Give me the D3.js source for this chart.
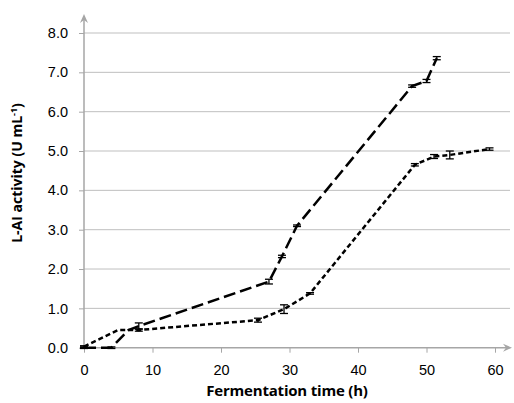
<!DOCTYPE html>
<html lang="en">
<head>
<meta charset="UTF-8">
<title>L-AI activity</title>
<script src="https://cdnjs.cloudflare.com/ajax/libs/d3/7.8.5/d3.min.js"></script>
<style>
  body { margin: 0; background: #fff; }
  svg { display: block; font-family: "DejaVu Sans", sans-serif; }
</style>
</head>
<body>
<svg id="viz"></svg>
<script>
// series: time (h), activity (U/mL), error
const timeA = [0, 4, 6.5, 8, 27, 28.9, 31.1, 47.9, 50, 51.5];
const valueA = [0, 0, 0.45, 0.55, 1.68, 2.32, 3.1, 6.65, 6.78, 7.36];
const errA = [0.02, 0.02, 0, 0.08, 0.06, 0.03, 0.02, 0.03, 0.04, 0.04];

const timeB = [0, 5, 8, 25.4, 29.2, 33, 48.3, 51.1, 53.4, 59.2];
const valueB = [0.03, 0.45, 0.45, 0.7, 0.98, 1.38, 4.65, 4.86, 4.9, 5.05];
const errB = [0.02, 0, 0.03, 0.05, 0.11, 0.02, 0.03, 0.05, 0.1, 0.03];

const xTicks = [0, 10, 20, 30, 40, 50, 60];
const yTicks = [0, 1, 2, 3, 4, 5, 6, 7, 8];

const width = 514, height = 403;
const svg = d3.select('#viz').attr('width', width).attr('height', height);

const x = d3.scaleLinear().domain([0, 60]).range([84, 495]);
const y = d3.scaleLinear().domain([0, 8]).range([347.7, 33]);

const axisColor = '#a6a6a6';
const gridColor = '#bfbfbf';

// grid
svg.append('g').selectAll('line').data(yTicks.filter(d => d > 0)).join('line')
  .attr('x1', x(0)).attr('x2', 510)
  .attr('y1', d => y(d)).attr('y2', d => y(d))
  .attr('stroke', gridColor).attr('stroke-width', 1);

// y axis
const yAxis = d3.axisLeft(y).tickValues(yTicks).tickFormat(d3.format('.1f')).tickSize(5).tickPadding(11);
const gy = svg.append('g').attr('transform', `translate(${x(0)},0)`).call(yAxis);
gy.select('.domain').remove();
gy.selectAll('.tick line').attr('stroke', axisColor);
gy.selectAll('.tick text').attr('font-size', 14.5).attr('fill', '#000');
svg.append('line').attr('x1', x(0)).attr('x2', x(0)).attr('y1', y(0) + 1).attr('y2', 18)
  .attr('stroke', axisColor).attr('stroke-width', 1.5);
svg.append('path').attr('d', `M${x(0) - 4},${23} L${x(0)},${14} L${x(0) + 4},${23} L${x(0)},${20}Z`)
  .attr('fill', axisColor);

// x axis
const xAxis = d3.axisBottom(x).tickValues(xTicks).tickSize(5).tickPadding(12);
const gx = svg.append('g').attr('transform', `translate(0,${y(0)})`).call(xAxis);
gx.select('.domain').remove();
gx.selectAll('.tick line').attr('stroke', axisColor);
gx.selectAll('.tick text').attr('font-size', 14.5).attr('fill', '#000');
svg.append('line').attr('x1', x(0) - 1).attr('x2', 507).attr('y1', y(0)).attr('y2', y(0))
  .attr('stroke', axisColor).attr('stroke-width', 1.5);
svg.append('path').attr('d', `M${503},${y(0) - 4} L${512},${y(0)} L${503},${y(0) + 4} L${506},${y(0)}Z`)
  .attr('fill', axisColor);

// titles
svg.append('text').attr('x', 287).attr('y', 396).attr('text-anchor', 'middle')
  .attr('font-family', '"Open Sans", sans-serif')
  .attr('font-size', 15).attr('font-weight', 'bold').attr('letter-spacing', -0.2)
  .text('Fermentation time (h)');
const yt = svg.append('text').attr('transform', 'translate(22,173) rotate(-90)')
  .attr('font-family', '"Open Sans", sans-serif')
  .attr('text-anchor', 'middle').attr('font-size', 14).attr('font-weight', 'bold');
yt.append('tspan').text('L-AI activity (U mL');
yt.append('tspan').attr('dy', -5).attr('font-size', 9).text('-1');
yt.append('tspan').attr('dy', 5).text(')');

function drawSeries(times, values, errs, dash) {
  const pts = times.map((t, i) => ({ t, v: values[i], e: errs[i] }));
  const line = d3.line().x(d => x(d.t)).y(d => y(d.v));
  svg.append('path').datum(pts).attr('d', line)
    .attr('fill', 'none').attr('stroke', '#000').attr('stroke-width', 2.5)
    .attr('stroke-dasharray', dash);
  const eb = svg.append('g').selectAll('g').data(pts.filter(d => d.e > 0)).join('g')
    .attr('stroke', '#000').attr('stroke-width', 1.3);
  eb.append('line').attr('x1', d => x(d.t)).attr('x2', d => x(d.t))
    .attr('y1', d => y(d.v + d.e)).attr('y2', d => y(d.v - d.e));
  eb.append('line').attr('x1', d => x(d.t) - 4).attr('x2', d => x(d.t) + 4)
    .attr('y1', d => y(d.v + d.e)).attr('y2', d => y(d.v + d.e));
  eb.append('line').attr('x1', d => x(d.t) - 4).attr('x2', d => x(d.t) + 4)
    .attr('y1', d => y(d.v - d.e)).attr('y2', d => y(d.v - d.e));
}

drawSeries(timeB, valueB, errB, '5,3');
drawSeries(timeA, valueA, errA, '12,5');
</script>
</body>
</html>
